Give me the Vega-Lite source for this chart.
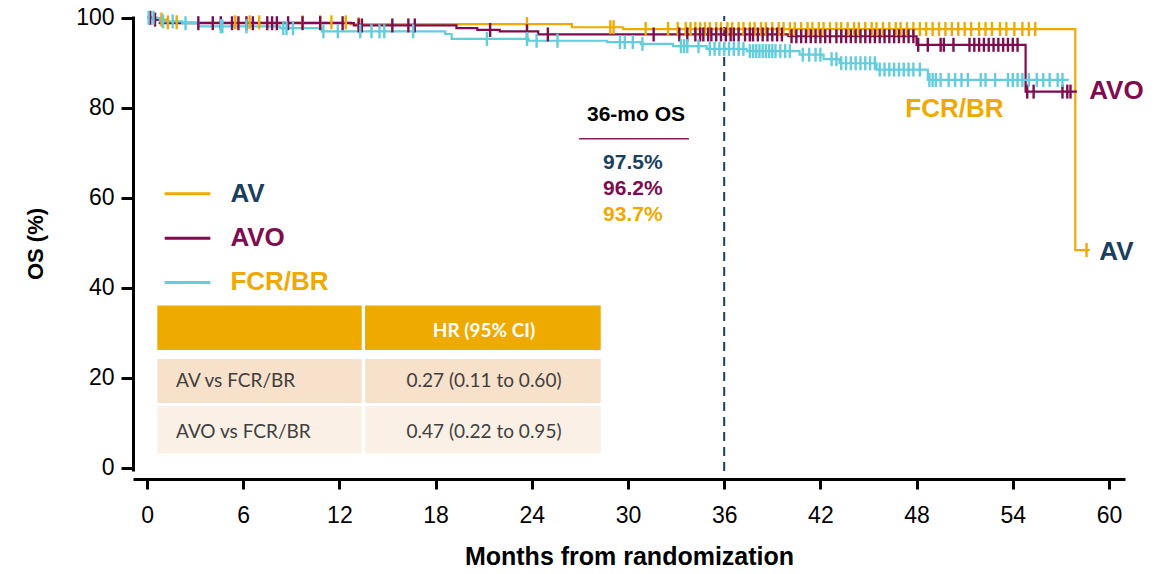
{
  "$schema": "https://vega.github.io/schema/vega-lite/v6.json",
  "width": 992,
  "height": 455,
  "autosize": "none",
  "padding": {"left": 133, "top": 16, "right": 32, "bottom": 103},
  "background": "white",
  "config": {"view": {"stroke": null}, "font": "Liberation Sans"},
  "datasets": {
    "table": [
      {"row": "h", "t": 0.64, "t2": 13.39, "s": 36.07, "s2": 26.16},
      {"row": "h", "t": 13.6, "t2": 28.3, "s": 36.07, "s2": 26.16},
      {"row": "r1", "t": 0.64, "t2": 13.39, "s": 24.2, "s2": 14.4},
      {"row": "r1", "t": 13.6, "t2": 28.3, "s": 24.2, "s2": 14.4},
      {"row": "r2", "t": 0.64, "t2": 13.39, "s": 13.7, "s2": 3.2},
      {"row": "r2", "t": 13.6, "t2": 28.3, "s": 13.7, "s2": 3.2}
    ],
    "tableLeft": [
      {"t": 1.81, "s": 19.3, "txt": "AV vs FCR/BR"},
      {"t": 1.81, "s": 8.0, "txt": "AVO vs FCR/BR"}
    ],
    "tableRight": [
      {"t": 21.02, "s": 19.3, "txt": "0.27 (0.11 to 0.60)"},
      {"t": 21.02, "s": 8.0, "txt": "0.47 (0.22 to 0.95)"}
    ],
    "tableHead": [
      {"t": 21.02, "s": 30.4, "txt": "HR (95% CI)"}
    ],
    "ref": [
      {"t": 36, "s": -0.7, "s2": 100.4}
    ],
    "curves": [
      {"arm": "AV", "t": 0, "s": 100},
      {"arm": "AV", "t": 0.6, "s": 99.6},
      {"arm": "AV", "t": 1.2, "s": 99.0},
      {"arm": "AV", "t": 12.7, "s": 98.6},
      {"arm": "AV", "t": 26.5, "s": 97.9},
      {"arm": "AV", "t": 29.7, "s": 97.5},
      {"arm": "AV", "t": 57.9, "s": 48.4},
      {"arm": "AV", "t": 58.8, "s": 48.4},
      {"arm": "AVO", "t": 0, "s": 100},
      {"arm": "AVO", "t": 0.4, "s": 99.6},
      {"arm": "AVO", "t": 0.8, "s": 98.8},
      {"arm": "AVO", "t": 12.9, "s": 98.3},
      {"arm": "AVO", "t": 19.3, "s": 97.7},
      {"arm": "AVO", "t": 20.6, "s": 97.3},
      {"arm": "AVO", "t": 22.0, "s": 97.0},
      {"arm": "AVO", "t": 24.4, "s": 96.3},
      {"arm": "AVO", "t": 40.0, "s": 95.9},
      {"arm": "AVO", "t": 48.0, "s": 94.0},
      {"arm": "AVO", "t": 54.8, "s": 83.6},
      {"arm": "AVO", "t": 58.0, "s": 83.6},
      {"arm": "FCR/BR", "t": 0, "s": 100},
      {"arm": "FCR/BR", "t": 0.8, "s": 99.2},
      {"arm": "FCR/BR", "t": 2.2, "s": 98.8},
      {"arm": "FCR/BR", "t": 3.2, "s": 98.1},
      {"arm": "FCR/BR", "t": 8.3, "s": 97.7},
      {"arm": "FCR/BR", "t": 10.9, "s": 97.0},
      {"arm": "FCR/BR", "t": 18.6, "s": 96.4},
      {"arm": "FCR/BR", "t": 19.0, "s": 95.3},
      {"arm": "FCR/BR", "t": 23.8, "s": 94.9},
      {"arm": "FCR/BR", "t": 28.7, "s": 94.6},
      {"arm": "FCR/BR", "t": 30.8, "s": 94.2},
      {"arm": "FCR/BR", "t": 32.8, "s": 93.7},
      {"arm": "FCR/BR", "t": 34.9, "s": 93.1},
      {"arm": "FCR/BR", "t": 37.4, "s": 92.6},
      {"arm": "FCR/BR", "t": 40.7, "s": 91.8},
      {"arm": "FCR/BR", "t": 42.2, "s": 90.8},
      {"arm": "FCR/BR", "t": 43.2, "s": 89.9},
      {"arm": "FCR/BR", "t": 45.5, "s": 88.5},
      {"arm": "FCR/BR", "t": 48.7, "s": 86.2},
      {"arm": "FCR/BR", "t": 57.5, "s": 86.2}
    ],
    "censors": [
      {"arm": "AV", "t": 0.9, "s": 99.6},
      {"arm": "AV", "t": 1.3, "s": 99.0},
      {"arm": "AV", "t": 1.85, "s": 99.0},
      {"arm": "AV", "t": 5.5, "s": 99.0},
      {"arm": "AV", "t": 6.4, "s": 99.0},
      {"arm": "AV", "t": 7.0, "s": 99.0},
      {"arm": "AV", "t": 9.7, "s": 99.0},
      {"arm": "AV", "t": 10.8, "s": 99.0},
      {"arm": "AV", "t": 11.5, "s": 99.0},
      {"arm": "AV", "t": 12.4, "s": 99.0},
      {"arm": "AV", "t": 13.2, "s": 98.6},
      {"arm": "AV", "t": 23.7, "s": 98.6},
      {"arm": "AV", "t": 28.9, "s": 97.9},
      {"arm": "AV", "t": 29.1, "s": 97.9},
      {"arm": "AV", "t": 31.1, "s": 97.5},
      {"arm": "AV", "t": 32.5, "s": 97.5},
      {"arm": "AV", "t": 33.1, "s": 97.5},
      {"arm": "AV", "t": 33.6, "s": 97.5},
      {"arm": "AV", "t": 33.9, "s": 97.5},
      {"arm": "AV", "t": 34.2, "s": 97.5},
      {"arm": "AV", "t": 34.5, "s": 97.5},
      {"arm": "AV", "t": 34.8, "s": 97.5},
      {"arm": "AV", "t": 35.1, "s": 97.5},
      {"arm": "AV", "t": 35.5, "s": 97.5},
      {"arm": "AV", "t": 35.8, "s": 97.5},
      {"arm": "AV", "t": 36.2, "s": 97.5},
      {"arm": "AV", "t": 36.5, "s": 97.5},
      {"arm": "AV", "t": 36.9, "s": 97.5},
      {"arm": "AV", "t": 37.2, "s": 97.5},
      {"arm": "AV", "t": 37.6, "s": 97.5},
      {"arm": "AV", "t": 37.9, "s": 97.5},
      {"arm": "AV", "t": 38.3, "s": 97.5},
      {"arm": "AV", "t": 38.6, "s": 97.5},
      {"arm": "AV", "t": 39.0, "s": 97.5},
      {"arm": "AV", "t": 39.4, "s": 97.5},
      {"arm": "AV", "t": 39.7, "s": 97.5},
      {"arm": "AV", "t": 40.1, "s": 97.5},
      {"arm": "AV", "t": 40.4, "s": 97.5},
      {"arm": "AV", "t": 40.8, "s": 97.5},
      {"arm": "AV", "t": 41.2, "s": 97.5},
      {"arm": "AV", "t": 41.5, "s": 97.5},
      {"arm": "AV", "t": 41.9, "s": 97.5},
      {"arm": "AV", "t": 42.2, "s": 97.5},
      {"arm": "AV", "t": 42.6, "s": 97.5},
      {"arm": "AV", "t": 43.0, "s": 97.5},
      {"arm": "AV", "t": 43.3, "s": 97.5},
      {"arm": "AV", "t": 43.7, "s": 97.5},
      {"arm": "AV", "t": 44.1, "s": 97.5},
      {"arm": "AV", "t": 44.4, "s": 97.5},
      {"arm": "AV", "t": 44.8, "s": 97.5},
      {"arm": "AV", "t": 45.2, "s": 97.5},
      {"arm": "AV", "t": 45.5, "s": 97.5},
      {"arm": "AV", "t": 45.9, "s": 97.5},
      {"arm": "AV", "t": 46.3, "s": 97.5},
      {"arm": "AV", "t": 46.7, "s": 97.5},
      {"arm": "AV", "t": 47.0, "s": 97.5},
      {"arm": "AV", "t": 47.4, "s": 97.5},
      {"arm": "AV", "t": 47.8, "s": 97.5},
      {"arm": "AV", "t": 48.2, "s": 97.5},
      {"arm": "AV", "t": 48.6, "s": 97.5},
      {"arm": "AV", "t": 49.0, "s": 97.5},
      {"arm": "AV", "t": 49.4, "s": 97.5},
      {"arm": "AV", "t": 49.8, "s": 97.5},
      {"arm": "AV", "t": 50.2, "s": 97.5},
      {"arm": "AV", "t": 50.6, "s": 97.5},
      {"arm": "AV", "t": 51.0, "s": 97.5},
      {"arm": "AV", "t": 51.4, "s": 97.5},
      {"arm": "AV", "t": 51.9, "s": 97.5},
      {"arm": "AV", "t": 52.3, "s": 97.5},
      {"arm": "AV", "t": 52.7, "s": 97.5},
      {"arm": "AV", "t": 53.2, "s": 97.5},
      {"arm": "AV", "t": 53.6, "s": 97.5},
      {"arm": "AV", "t": 54.1, "s": 97.5},
      {"arm": "AV", "t": 54.6, "s": 97.5},
      {"arm": "AV", "t": 55.0, "s": 97.5},
      {"arm": "AV", "t": 55.4, "s": 97.5},
      {"arm": "AV", "t": 58.6, "s": 48.4},
      {"arm": "AVO", "t": 0.2, "s": 100},
      {"arm": "AVO", "t": 0.5, "s": 99.6},
      {"arm": "AVO", "t": 3.2, "s": 98.8},
      {"arm": "AVO", "t": 4.1, "s": 98.8},
      {"arm": "AVO", "t": 4.6, "s": 98.8},
      {"arm": "AVO", "t": 5.3, "s": 98.8},
      {"arm": "AVO", "t": 5.7, "s": 98.8},
      {"arm": "AVO", "t": 6.2, "s": 98.8},
      {"arm": "AVO", "t": 6.6, "s": 98.8},
      {"arm": "AVO", "t": 7.5, "s": 98.8},
      {"arm": "AVO", "t": 7.8, "s": 98.8},
      {"arm": "AVO", "t": 8.1, "s": 98.8},
      {"arm": "AVO", "t": 8.8, "s": 98.8},
      {"arm": "AVO", "t": 9.7, "s": 98.8},
      {"arm": "AVO", "t": 10.8, "s": 98.8},
      {"arm": "AVO", "t": 12.2, "s": 98.8},
      {"arm": "AVO", "t": 13.2, "s": 98.3},
      {"arm": "AVO", "t": 13.4, "s": 98.3},
      {"arm": "AVO", "t": 15.3, "s": 98.3},
      {"arm": "AVO", "t": 16.3, "s": 98.3},
      {"arm": "AVO", "t": 16.7, "s": 98.3},
      {"arm": "AVO", "t": 21.4, "s": 97.3},
      {"arm": "AVO", "t": 23.7, "s": 97.0},
      {"arm": "AVO", "t": 25.0, "s": 96.3},
      {"arm": "AVO", "t": 31.6, "s": 96.3},
      {"arm": "AVO", "t": 33.2, "s": 96.3},
      {"arm": "AVO", "t": 33.7, "s": 96.3},
      {"arm": "AVO", "t": 34.2, "s": 96.3},
      {"arm": "AVO", "t": 34.5, "s": 96.3},
      {"arm": "AVO", "t": 34.7, "s": 96.3},
      {"arm": "AVO", "t": 35.0, "s": 96.3},
      {"arm": "AVO", "t": 35.2, "s": 96.3},
      {"arm": "AVO", "t": 35.5, "s": 96.3},
      {"arm": "AVO", "t": 35.8, "s": 96.3},
      {"arm": "AVO", "t": 36.1, "s": 96.3},
      {"arm": "AVO", "t": 36.4, "s": 96.3},
      {"arm": "AVO", "t": 36.6, "s": 96.3},
      {"arm": "AVO", "t": 36.9, "s": 96.3},
      {"arm": "AVO", "t": 37.3, "s": 96.3},
      {"arm": "AVO", "t": 37.6, "s": 96.3},
      {"arm": "AVO", "t": 37.8, "s": 96.3},
      {"arm": "AVO", "t": 38.1, "s": 96.3},
      {"arm": "AVO", "t": 38.4, "s": 96.3},
      {"arm": "AVO", "t": 38.7, "s": 96.3},
      {"arm": "AVO", "t": 39.0, "s": 96.3},
      {"arm": "AVO", "t": 39.3, "s": 96.3},
      {"arm": "AVO", "t": 39.6, "s": 96.3},
      {"arm": "AVO", "t": 40.2, "s": 95.9},
      {"arm": "AVO", "t": 40.5, "s": 95.9},
      {"arm": "AVO", "t": 40.8, "s": 95.9},
      {"arm": "AVO", "t": 41.1, "s": 95.9},
      {"arm": "AVO", "t": 41.4, "s": 95.9},
      {"arm": "AVO", "t": 41.7, "s": 95.9},
      {"arm": "AVO", "t": 42.0, "s": 95.9},
      {"arm": "AVO", "t": 42.3, "s": 95.9},
      {"arm": "AVO", "t": 42.6, "s": 95.9},
      {"arm": "AVO", "t": 43.0, "s": 95.9},
      {"arm": "AVO", "t": 43.3, "s": 95.9},
      {"arm": "AVO", "t": 43.6, "s": 95.9},
      {"arm": "AVO", "t": 43.9, "s": 95.9},
      {"arm": "AVO", "t": 44.2, "s": 95.9},
      {"arm": "AVO", "t": 44.5, "s": 95.9},
      {"arm": "AVO", "t": 44.8, "s": 95.9},
      {"arm": "AVO", "t": 45.1, "s": 95.9},
      {"arm": "AVO", "t": 45.4, "s": 95.9},
      {"arm": "AVO", "t": 45.7, "s": 95.9},
      {"arm": "AVO", "t": 46.0, "s": 95.9},
      {"arm": "AVO", "t": 46.3, "s": 95.9},
      {"arm": "AVO", "t": 46.6, "s": 95.9},
      {"arm": "AVO", "t": 46.9, "s": 95.9},
      {"arm": "AVO", "t": 47.2, "s": 95.9},
      {"arm": "AVO", "t": 47.5, "s": 95.9},
      {"arm": "AVO", "t": 47.8, "s": 95.9},
      {"arm": "AVO", "t": 48.1, "s": 94.0},
      {"arm": "AVO", "t": 48.7, "s": 94.0},
      {"arm": "AVO", "t": 49.5, "s": 94.0},
      {"arm": "AVO", "t": 49.7, "s": 94.0},
      {"arm": "AVO", "t": 50.3, "s": 94.0},
      {"arm": "AVO", "t": 51.3, "s": 94.0},
      {"arm": "AVO", "t": 51.6, "s": 94.0},
      {"arm": "AVO", "t": 51.9, "s": 94.0},
      {"arm": "AVO", "t": 52.2, "s": 94.0},
      {"arm": "AVO", "t": 52.5, "s": 94.0},
      {"arm": "AVO", "t": 52.8, "s": 94.0},
      {"arm": "AVO", "t": 53.1, "s": 94.0},
      {"arm": "AVO", "t": 53.4, "s": 94.0},
      {"arm": "AVO", "t": 53.7, "s": 94.0},
      {"arm": "AVO", "t": 54.0, "s": 94.0},
      {"arm": "AVO", "t": 54.3, "s": 94.0},
      {"arm": "AVO", "t": 54.9, "s": 83.6},
      {"arm": "AVO", "t": 55.3, "s": 83.6},
      {"arm": "AVO", "t": 57.1, "s": 83.6},
      {"arm": "AVO", "t": 57.4, "s": 83.6},
      {"arm": "AVO", "t": 57.6, "s": 83.6},
      {"arm": "FCR/BR", "t": 0.1, "s": 100},
      {"arm": "FCR/BR", "t": 0.4, "s": 100},
      {"arm": "FCR/BR", "t": 1.0, "s": 99.2},
      {"arm": "FCR/BR", "t": 1.6, "s": 99.2},
      {"arm": "FCR/BR", "t": 2.4, "s": 98.8},
      {"arm": "FCR/BR", "t": 4.6, "s": 98.1},
      {"arm": "FCR/BR", "t": 4.7, "s": 98.1},
      {"arm": "FCR/BR", "t": 6.2, "s": 98.1},
      {"arm": "FCR/BR", "t": 8.5, "s": 97.7},
      {"arm": "FCR/BR", "t": 8.7, "s": 97.7},
      {"arm": "FCR/BR", "t": 9.1, "s": 97.7},
      {"arm": "FCR/BR", "t": 11.0, "s": 97.0},
      {"arm": "FCR/BR", "t": 11.9, "s": 97.0},
      {"arm": "FCR/BR", "t": 13.3, "s": 97.0},
      {"arm": "FCR/BR", "t": 14.0, "s": 97.0},
      {"arm": "FCR/BR", "t": 14.5, "s": 97.0},
      {"arm": "FCR/BR", "t": 14.8, "s": 97.0},
      {"arm": "FCR/BR", "t": 16.6, "s": 97.0},
      {"arm": "FCR/BR", "t": 21.2, "s": 95.3},
      {"arm": "FCR/BR", "t": 23.7, "s": 95.3},
      {"arm": "FCR/BR", "t": 24.3, "s": 94.9},
      {"arm": "FCR/BR", "t": 25.6, "s": 94.9},
      {"arm": "FCR/BR", "t": 29.5, "s": 94.6},
      {"arm": "FCR/BR", "t": 29.8, "s": 94.6},
      {"arm": "FCR/BR", "t": 30.3, "s": 94.6},
      {"arm": "FCR/BR", "t": 30.9, "s": 94.2},
      {"arm": "FCR/BR", "t": 33.3, "s": 93.7},
      {"arm": "FCR/BR", "t": 33.5, "s": 93.7},
      {"arm": "FCR/BR", "t": 33.7, "s": 93.7},
      {"arm": "FCR/BR", "t": 34.4, "s": 93.7},
      {"arm": "FCR/BR", "t": 35.1, "s": 93.1},
      {"arm": "FCR/BR", "t": 35.4, "s": 93.1},
      {"arm": "FCR/BR", "t": 35.7, "s": 93.1},
      {"arm": "FCR/BR", "t": 36.0, "s": 93.1},
      {"arm": "FCR/BR", "t": 36.3, "s": 93.1},
      {"arm": "FCR/BR", "t": 36.6, "s": 93.1},
      {"arm": "FCR/BR", "t": 36.9, "s": 93.1},
      {"arm": "FCR/BR", "t": 37.2, "s": 93.1},
      {"arm": "FCR/BR", "t": 37.6, "s": 92.6},
      {"arm": "FCR/BR", "t": 37.8, "s": 92.6},
      {"arm": "FCR/BR", "t": 38.0, "s": 92.6},
      {"arm": "FCR/BR", "t": 38.2, "s": 92.6},
      {"arm": "FCR/BR", "t": 38.4, "s": 92.6},
      {"arm": "FCR/BR", "t": 38.6, "s": 92.6},
      {"arm": "FCR/BR", "t": 38.8, "s": 92.6},
      {"arm": "FCR/BR", "t": 39.0, "s": 92.6},
      {"arm": "FCR/BR", "t": 39.2, "s": 92.6},
      {"arm": "FCR/BR", "t": 39.5, "s": 92.6},
      {"arm": "FCR/BR", "t": 39.8, "s": 92.6},
      {"arm": "FCR/BR", "t": 40.1, "s": 92.6},
      {"arm": "FCR/BR", "t": 40.9, "s": 91.8},
      {"arm": "FCR/BR", "t": 41.3, "s": 91.8},
      {"arm": "FCR/BR", "t": 41.7, "s": 91.8},
      {"arm": "FCR/BR", "t": 42.0, "s": 91.8},
      {"arm": "FCR/BR", "t": 42.7, "s": 90.8},
      {"arm": "FCR/BR", "t": 43.0, "s": 90.8},
      {"arm": "FCR/BR", "t": 43.3, "s": 89.9},
      {"arm": "FCR/BR", "t": 43.6, "s": 89.9},
      {"arm": "FCR/BR", "t": 43.9, "s": 89.9},
      {"arm": "FCR/BR", "t": 44.2, "s": 89.9},
      {"arm": "FCR/BR", "t": 44.5, "s": 89.9},
      {"arm": "FCR/BR", "t": 44.8, "s": 89.9},
      {"arm": "FCR/BR", "t": 45.1, "s": 89.9},
      {"arm": "FCR/BR", "t": 45.4, "s": 89.9},
      {"arm": "FCR/BR", "t": 45.7, "s": 88.5},
      {"arm": "FCR/BR", "t": 46.0, "s": 88.5},
      {"arm": "FCR/BR", "t": 46.3, "s": 88.5},
      {"arm": "FCR/BR", "t": 46.6, "s": 88.5},
      {"arm": "FCR/BR", "t": 46.9, "s": 88.5},
      {"arm": "FCR/BR", "t": 47.2, "s": 88.5},
      {"arm": "FCR/BR", "t": 47.5, "s": 88.5},
      {"arm": "FCR/BR", "t": 47.8, "s": 88.5},
      {"arm": "FCR/BR", "t": 48.2, "s": 88.5},
      {"arm": "FCR/BR", "t": 48.8, "s": 86.2},
      {"arm": "FCR/BR", "t": 49.0, "s": 86.2},
      {"arm": "FCR/BR", "t": 49.2, "s": 86.2},
      {"arm": "FCR/BR", "t": 49.5, "s": 86.2},
      {"arm": "FCR/BR", "t": 50.0, "s": 86.2},
      {"arm": "FCR/BR", "t": 50.4, "s": 86.2},
      {"arm": "FCR/BR", "t": 50.8, "s": 86.2},
      {"arm": "FCR/BR", "t": 51.2, "s": 86.2},
      {"arm": "FCR/BR", "t": 52.0, "s": 86.2},
      {"arm": "FCR/BR", "t": 52.3, "s": 86.2},
      {"arm": "FCR/BR", "t": 52.9, "s": 86.2},
      {"arm": "FCR/BR", "t": 53.7, "s": 86.2},
      {"arm": "FCR/BR", "t": 54.0, "s": 86.2},
      {"arm": "FCR/BR", "t": 54.3, "s": 86.2},
      {"arm": "FCR/BR", "t": 54.6, "s": 86.2},
      {"arm": "FCR/BR", "t": 55.0, "s": 86.2},
      {"arm": "FCR/BR", "t": 55.5, "s": 86.2},
      {"arm": "FCR/BR", "t": 55.9, "s": 86.2},
      {"arm": "FCR/BR", "t": 56.3, "s": 86.2},
      {"arm": "FCR/BR", "t": 56.8, "s": 86.2},
      {"arm": "FCR/BR", "t": 57.1, "s": 86.2}
    ],
    "legendLines": [
      {"arm": "AV", "t": 1.1, "t2": 3.95, "s": 60.9},
      {"arm": "AVO", "t": 1.1, "t2": 3.95, "s": 51.0},
      {"arm": "FCR/BR", "t": 1.1, "t2": 3.95, "s": 41.2}
    ],
    "bigLabels": [
      {"arm": "AV", "t": 5.2, "s": 60.9, "txt": "AV"},
      {"arm": "AVO", "t": 5.2, "s": 51.0, "txt": "AVO"},
      {"arm": "FCR/BR", "t": 5.2, "s": 41.2, "txt": "FCR/BR"},
      {"arm": "AVO", "t": 58.77, "s": 83.8, "txt": "AVO"},
      {"arm": "AV", "t": 59.4, "s": 48.0, "txt": "AV"},
      {"arm": "FCR/BR", "t": 47.3, "s": 79.8, "txt": "FCR/BR"}
    ],
    "pcts": [
      {"arm": "AV", "t": 30.3, "s": 67.8, "txt": "97.5%"},
      {"arm": "AVO", "t": 30.3, "s": 62.0, "txt": "96.2%"},
      {"arm": "FCR/BR", "t": 30.3, "s": 56.2, "txt": "93.7%"}
    ],
    "osHead": [
      {"t": 30.5, "s": 78.4, "txt": "36-mo OS"}
    ],
    "osLine": [
      {"t": 26.95, "t2": 33.8, "s": 73.1}
    ]
  },
  "encoding": {
    "x": {
      "field": "t",
      "type": "quantitative",
      "scale": {"domain": [-0.875, 61], "nice": false, "zero": false},
      "axis": {
        "values": [0, 6, 12, 18, 24, 30, 36, 42, 48, 54, 60],
        "title": "Months from randomization",
        "offset": 8,
        "grid": false,
        "domainColor": "black",
        "domainWidth": 3,
        "tickColor": "black",
        "tickWidth": 3,
        "tickSize": 10,
        "labelFontSize": 23,
        "labelColor": "black",
        "labelPadding": 15,
        "labelFlush": false,
        "titleFontSize": 25,
        "titleFontWeight": "bold",
        "titleColor": "black",
        "titlePadding": 17
      }
    },
    "y": {
      "field": "s",
      "type": "quantitative",
      "scale": {"domain": [-0.7, 100.4], "nice": false, "zero": false},
      "axis": {
        "values": [0, 20, 40, 60, 80, 100],
        "title": "OS (%)",
        "grid": false,
        "domainColor": "black",
        "domainWidth": 3,
        "tickColor": "black",
        "tickWidth": 3,
        "tickSize": 12,
        "labelFontSize": 23,
        "labelColor": "black",
        "labelPadding": 7,
        "labelFlush": false,
        "titleFontSize": 22,
        "titleFontWeight": "bold",
        "titleColor": "black",
        "titlePadding": 28
      }
    }
  },
  "layer": [
    {
      "data": {"name": "table"},
      "mark": {"type": "rect"},
      "encoding": {
        "x2": {"field": "t2"},
        "y2": {"field": "s2"},
        "fill": {"field": "row", "type": "nominal", "legend": null,
          "scale": {"domain": ["h", "r1", "r2"], "range": ["#EFAA00", "#F8E1CB", "#FBF0E6"]}}
      }
    },
    {
      "data": {"name": "tableHead"},
      "mark": {"type": "text", "font": "Lato", "fontWeight": "bold", "fontSize": 19, "color": "white", "align": "center", "baseline": "middle"},
      "encoding": {"text": {"field": "txt"}}
    },
    {
      "data": {"name": "tableLeft"},
      "mark": {"type": "text", "font": "Lato", "fontSize": 19, "color": "#404040", "align": "left", "baseline": "middle"},
      "encoding": {"text": {"field": "txt"}}
    },
    {
      "data": {"name": "tableRight"},
      "mark": {"type": "text", "font": "Lato", "fontSize": 19, "color": "#404040", "align": "center", "baseline": "middle"},
      "encoding": {"text": {"field": "txt"}}
    },
    {
      "data": {"name": "ref"},
      "mark": {"type": "rule", "color": "#1B3F5F", "strokeWidth": 2, "strokeDash": [9, 6]},
      "encoding": {"y2": {"field": "s2"}}
    },
    {
      "data": {"name": "curves"},
      "mark": {"type": "line", "interpolate": "step-after", "strokeWidth": 2.2},
      "encoding": {
        "color": {"field": "arm", "type": "nominal", "legend": null,
          "scale": {"domain": ["AV", "AVO", "FCR/BR"], "range": ["#F0A900", "#7E0C4E", "#62CDDC"]}}
      }
    },
    {
      "data": {"name": "censors"},
      "mark": {"type": "tick", "orient": "vertical", "size": 14, "thickness": 2.4, "opacity": 1},
      "encoding": {
        "color": {"field": "arm", "type": "nominal", "legend": null,
          "scale": {"domain": ["AV", "AVO", "FCR/BR"], "range": ["#F0A900", "#7E0C4E", "#62CDDC"]}}
      }
    },
    {
      "data": {"name": "legendLines"},
      "mark": {"type": "rule", "strokeWidth": 3},
      "encoding": {
        "x2": {"field": "t2"},
        "color": {"field": "arm", "type": "nominal", "legend": null,
          "scale": {"domain": ["AV", "AVO", "FCR/BR"], "range": ["#F0A900", "#7E0C4E", "#62CDDC"]}}
      }
    },
    {
      "data": {"name": "bigLabels"},
      "mark": {"type": "text", "fontWeight": "bold", "fontSize": 26, "align": "left", "baseline": "middle"},
      "encoding": {
        "text": {"field": "txt"},
        "color": {"field": "arm", "type": "nominal", "legend": null,
          "scale": {"domain": ["AV", "AVO", "FCR/BR"], "range": ["#1B3F5F", "#7E0C4E", "#F0A900"]}}
      }
    },
    {
      "data": {"name": "pcts"},
      "mark": {"type": "text", "fontWeight": "bold", "fontSize": 21, "align": "center", "baseline": "middle"},
      "encoding": {
        "text": {"field": "txt"},
        "color": {"field": "arm", "type": "nominal", "legend": null,
          "scale": {"domain": ["AV", "AVO", "FCR/BR"], "range": ["#1B3F5F", "#7E0C4E", "#F0A900"]}}
      }
    },
    {
      "data": {"name": "osHead"},
      "mark": {"type": "text", "fontWeight": "bold", "fontSize": 21, "color": "black", "align": "center", "baseline": "middle"},
      "encoding": {"text": {"field": "txt"}}
    },
    {
      "data": {"name": "osLine"},
      "mark": {"type": "rule", "color": "#8B1A5A", "strokeWidth": 1.5},
      "encoding": {"x2": {"field": "t2"}}
    }
  ],
  "resolve": {"scale": {"color": "independent", "fill": "independent"}}
}
